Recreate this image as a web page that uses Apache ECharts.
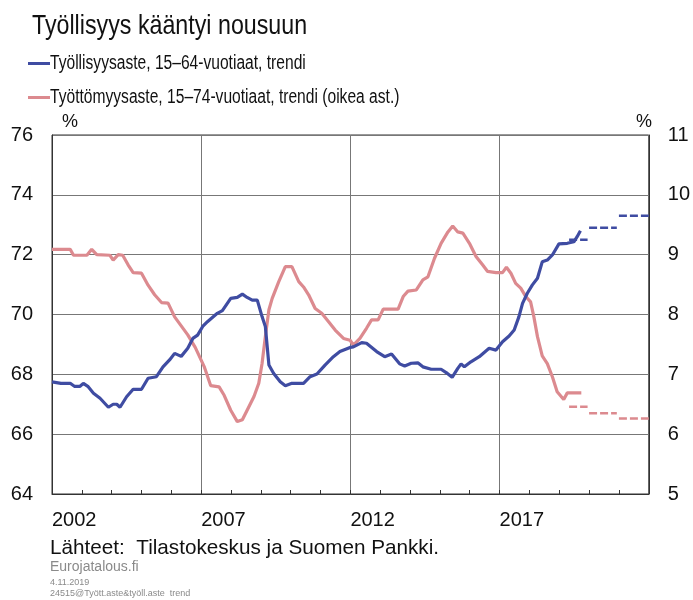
<!DOCTYPE html>
<html>
<head>
<meta charset="utf-8">
<script src="https://cdn.jsdelivr.net/npm/echarts@6/dist/echarts.min.js"></script>
<style>
  html, body { margin: 0; padding: 0; background: #fff; }
  #chart { width: 693px; height: 600px; }
</style>
</head>
<body>
<div id="chart"></div>
<script>
// työllisyysaste 15-64, trendi (vasen asteikko)
var empYears = [2002.0, 2002.3, 2002.61, 2002.75, 2002.94, 2003.05, 2003.2, 2003.39, 2003.61, 2003.89,
  2004.05, 2004.17, 2004.28, 2004.5, 2004.72, 2005.0, 2005.22, 2005.5, 2005.72, 2005.94,
  2006.11, 2006.33, 2006.55, 2006.72, 2006.88, 2007.05, 2007.21, 2007.54, 2007.71, 2007.99,
  2008.21, 2008.38, 2008.54, 2008.71, 2008.88, 2009.04, 2009.15, 2009.27, 2009.43, 2009.65,
  2009.82, 2010.04, 2010.43, 2010.65, 2010.88, 2011.15, 2011.43, 2011.65, 2011.99, 2012.1,
  2012.38, 2012.54, 2012.88, 2013.15, 2013.38, 2013.65, 2013.82, 2014.04, 2014.27, 2014.43,
  2014.71, 2015.04, 2015.21, 2015.41, 2015.6, 2015.71, 2015.82, 2016.04, 2016.32, 2016.65,
  2016.88, 2017.1, 2017.32, 2017.49, 2017.65, 2017.77, 2017.93, 2018.1, 2018.27, 2018.43,
  2018.6, 2018.77, 2018.99, 2019.27, 2019.49, 2019.6, 2019.71];
var empValues = [67.75, 67.7, 67.7, 67.6, 67.6, 67.7, 67.6, 67.37, 67.2, 66.9,
  67.0, 67.0, 66.9, 67.25, 67.5, 67.5, 67.87, 67.92, 68.25, 68.48,
  68.7, 68.6, 68.87, 69.2, 69.31, 69.6, 69.76, 70.04, 70.13, 70.54,
  70.57, 70.68, 70.57, 70.48, 70.48, 69.93, 69.6, 68.31, 68.03, 67.75,
  67.62, 67.7, 67.7, 67.92, 68.01, 68.31, 68.59, 68.76, 68.9, 68.92,
  69.06, 69.04, 68.76, 68.59, 68.68, 68.35, 68.28, 68.37, 68.38, 68.25,
  68.17, 68.17, 68.06, 67.9, 68.2, 68.35, 68.25, 68.42, 68.59, 68.87,
  68.81, 69.09, 69.28, 69.48, 69.93, 70.37, 70.71, 70.99, 71.21, 71.76,
  71.82, 71.99, 72.36, 72.38, 72.43, 72.6, 72.8];

// työttömyysaste 15-74, trendi (oikea asteikko)
var unempYears = [2002.0, 2002.61, 2002.72, 2003.17, 2003.33, 2003.5, 2003.94, 2004.05, 2004.22, 2004.37,
  2004.55, 2004.72, 2005.0, 2005.22, 2005.44, 2005.67, 2005.89, 2006.11, 2006.33, 2006.55,
  2006.8, 2007.1, 2007.32, 2007.6, 2007.77, 2007.99, 2008.21, 2008.38, 2008.54, 2008.77,
  2008.93, 2009.04, 2009.15, 2009.27, 2009.38, 2009.6, 2009.82, 2010.04, 2010.27, 2010.43,
  2010.6, 2010.82, 2011.04, 2011.27, 2011.49, 2011.77, 2011.99, 2012.1, 2012.32, 2012.54,
  2012.71, 2012.93, 2013.1, 2013.6, 2013.77, 2013.93, 2014.21, 2014.43, 2014.6, 2014.82,
  2015.04, 2015.27, 2015.43, 2015.6, 2015.77, 2015.99, 2016.21, 2016.43, 2016.6, 2016.88,
  2017.1, 2017.23, 2017.38, 2017.54, 2017.71, 2017.88, 2018.04, 2018.15, 2018.27, 2018.43,
  2018.6, 2018.77, 2018.93, 2019.15, 2019.27, 2019.74];
var unempValues = [9.09, 9.09, 8.99, 8.99, 9.09, 9.0, 8.99, 8.91, 9.0, 8.99,
  8.83, 8.7, 8.69, 8.49, 8.33, 8.2, 8.19, 7.96, 7.81, 7.66,
  7.45, 7.13, 6.81, 6.79, 6.65, 6.4, 6.21, 6.24, 6.4, 6.63,
  6.85, 7.18, 7.63, 8.08, 8.27, 8.55, 8.8, 8.8, 8.55, 8.46,
  8.33, 8.1, 8.02, 7.88, 7.74, 7.6, 7.57, 7.49, 7.6, 7.77,
  7.91, 7.91, 8.09, 8.09, 8.3, 8.39, 8.41, 8.58, 8.63, 8.94,
  9.19, 9.38, 9.48, 9.38, 9.36, 9.19, 8.97, 8.83, 8.72, 8.7,
  8.7, 8.79, 8.69, 8.52, 8.44, 8.3, 8.21, 7.96, 7.63, 7.31,
  7.18, 6.96, 6.71, 6.58, 6.69, 6.69];

// ennusteet (katkoviivat), vuosittain
var forecastStart = [2019.33, 2020.0, 2021.0];
var forecastEnd = [2019.95, 2020.93, 2022.0];
var empForecast = [72.5, 72.9, 73.3];
var unempForecast = [6.46, 6.35, 6.26];

var xTicks = [2002, 2007, 2012, 2017];

var empName = 'Työllisyysaste, 15–64-vuotiaat, trendi';
var unempName = 'Työttömyysaste, 15–74-vuotiaat, trendi (oikea ast.)';

var blue = '#3f4ca2';
var pink = '#dc8a8f';
var sans = "'Liberation Sans', Arial, sans-serif";

function pairs(xs, ys) {
  var out = [];
  for (var i = 0; i < xs.length; i++) out.push([xs[i], ys[i]]);
  return out;
}
function segments(vals) {
  var out = [];
  for (var i = 0; i < vals.length; i++) {
    out.push([forecastStart[i], vals[i]]);
    out.push([forecastEnd[i], vals[i]]);
    out.push('-');
  }
  return out;
}

var chart = echarts.init(document.getElementById('chart'), null, { renderer: 'canvas' });

// otsikko ja selite kapealla (vaakasuunnassa puristetulla) tekstillä
var narrowText = function (x, y, txt, size, sx) {
  return {
    type: 'text', x: x, y: y, scaleX: sx, scaleY: 1,
    style: { text: txt, font: size + 'px ' + sans, fill: '#111', textVerticalAlign: 'middle' }
  };
};

var option = {
  animation: false,
  grid: {
    left: 52, right: 42, top: 135, bottom: 106,
    show: true, borderColor: '#333', borderWidth: 1
  },
  xAxis: {
    type: 'value', min: 2002, max: 2022, interval: 5,
    axisLine: { show: true, lineStyle: { color: '#333' } },
    axisTick: { show: true, inside: true, length: 4, lineStyle: { color: '#333' } },
    minorTick: { show: true, splitNumber: 5, length: 4, lineStyle: { color: '#333' } },
    splitLine: { show: true, lineStyle: { color: '#777', width: 1 } },
    axisLabel: {
      show: true, margin: 16, align: 'left', color: '#111',
      fontFamily: sans, fontSize: 20,
      showMaxLabel: false,
      formatter: function (v) { return xTicks.indexOf(v) >= 0 ? String(v) : ''; }
    }
  },
  yAxis: [
    {
      type: 'value', min: 64, max: 76, interval: 2, position: 'left',
      axisLine: { show: true, lineStyle: { color: '#333' } },
      axisTick: { show: false },
      splitLine: { show: true, lineStyle: { color: '#777', width: 1 } },
      axisLabel: { margin: 19, color: '#111', fontFamily: sans, fontSize: 20 }
    },
    {
      type: 'value', min: 5, max: 11, interval: 1, position: 'right',
      axisLine: { show: true, lineStyle: { color: '#333' } },
      axisTick: { show: false },
      splitLine: { show: false },
      axisLabel: { margin: 19, color: '#111', fontFamily: sans, fontSize: 20 }
    }
  ],
  graphic: [
    narrowText(32, 26, 'Työllisyys kääntyi nousuun', 28, 0.83),
    { type: 'rect', shape: { x: 28, y: 62, width: 22, height: 3 }, style: { fill: blue } },
    narrowText(50, 63, empName, 20, 0.78),
    { type: 'rect', shape: { x: 28, y: 96, width: 22, height: 3 }, style: { fill: pink } },
    narrowText(50, 97, unempName, 20, 0.78),
    { type: 'text', x: 62, y: 113, style: { text: '%', font: '18px ' + sans, fill: '#111' } },
    { type: 'text', x: 636, y: 113, style: { text: '%', font: '18px ' + sans, fill: '#111' } },
    { type: 'text', x: 50, y: 538, style: { text: 'Lähteet:  Tilastokeskus ja Suomen Pankki.', font: '20.7px ' + sans, fill: '#111' } },
    { type: 'text', x: 50, y: 560, style: { text: 'Eurojatalous.fi', font: '14px ' + sans, fill: '#8a8a8a' } },
    { type: 'text', x: 50, y: 578, style: { text: '4.11.2019', font: '9px ' + sans, fill: '#8a8a8a' } },
    { type: 'text', x: 50, y: 589, style: { text: '24515@Tyött.aste&työll.aste  trend', font: '9px ' + sans, fill: '#8a8a8a' } }
  ],
  series: [
    {
      name: unempName,
      type: 'line', yAxisIndex: 1, showSymbol: false, symbol: 'none',
      color: pink, lineStyle: { width: 3.2, color: pink },
      data: pairs(unempYears, unempValues), z: 2
    },
    {
      name: empName,
      type: 'line', yAxisIndex: 0, showSymbol: false, symbol: 'none',
      color: blue, lineStyle: { width: 3.2, color: blue },
      data: pairs(empYears, empValues), z: 3
    },
    {
      name: 'ennuste1', type: 'line', yAxisIndex: 0, symbol: 'none', connectNulls: false,
      lineStyle: { width: 2.5, color: blue, type: [8, 3] },
      data: segments(empForecast), z: 3
    },
    {
      name: 'ennuste2', type: 'line', yAxisIndex: 1, symbol: 'none', connectNulls: false,
      lineStyle: { width: 2.5, color: pink, type: [8, 3] },
      data: segments(unempForecast), z: 2
    }
  ]
};
chart.setOption(option);
</script>
</body>
</html>
